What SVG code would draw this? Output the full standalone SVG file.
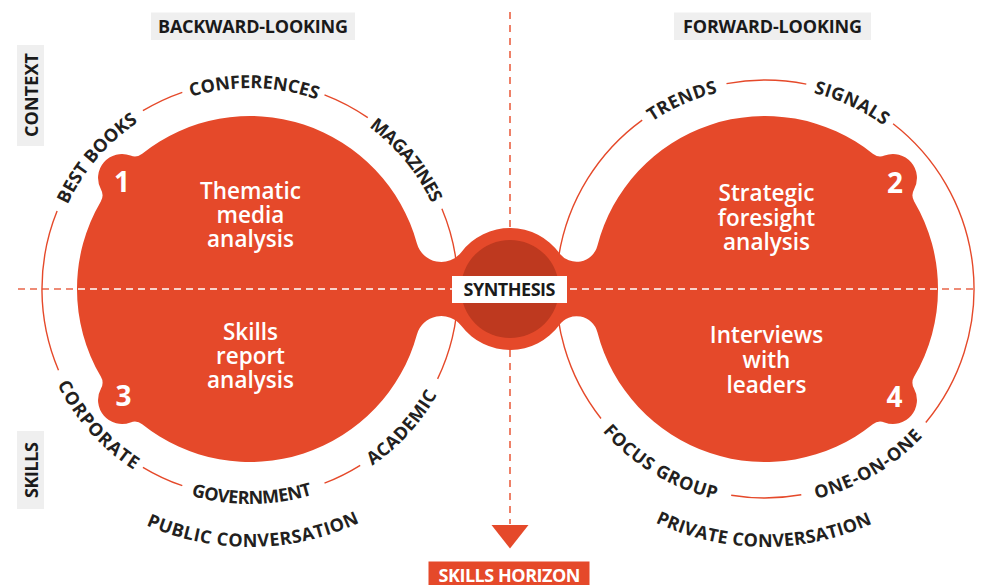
<svg xmlns="http://www.w3.org/2000/svg" xmlns:xlink="http://www.w3.org/1999/xlink" width="982" height="585" viewBox="0 0 982 585">
<style>
.ring{fill:none;stroke:#E5492A;stroke-width:1.4}
.lbl{font-family:"Open Sans","Liberation Sans",sans-serif;font-weight:700;font-size:18px;fill:#231f20}
.hdr{font-family:"Open Sans","Liberation Sans",sans-serif;font-weight:700;font-size:18px;fill:#1a1a1a;text-anchor:middle}
.box{fill:#EFEFEF}
.btxt{font-family:"Open Sans","Liberation Sans",sans-serif;font-weight:600;font-size:22.5px;fill:#fff;text-anchor:middle}
.num{font-family:"Open Sans","Liberation Sans",sans-serif;font-weight:700;font-size:28px;fill:#fff;text-anchor:middle}
</style>
<defs>
<path id="blob" d="M461.5,252 A61,61 0 0 1 559.3,253.1 A21.5,21.5 0 0 0 597.4,245.8 A173,173 0 0 1 872.8,153.7 A12,12 0 0 0 884.5,155.5 A24,24 0 0 1 914,189.5 A12,12 0 0 0 914.2,201.4 A173,173 0 0 1 914.2,376.6 A12,12 0 0 0 914,388.5 A24,24 0 0 1 884.5,422.5 A12,12 0 0 0 872.8,424.3 A173,173 0 0 1 597.4,332.2 A21.5,21.5 0 0 0 559.3,324.9 A61,61 0 0 1 461.5,326 A25.4,25.4 0 0 0 416.85,334.7 A173,173 0 0 1 142.2,424.3 A12,12 0 0 0 130.5,422.5 A24,24 0 0 1 101,388.5 A12,12 0 0 0 100.8,376.6 A173,173 0 0 1 100.8,201.4 A12,12 0 0 0 101,189.5 A24,24 0 0 1 130.5,155.5 A12,12 0 0 0 142.2,153.7 A173,173 0 0 1 416.85,243.3 A25.4,25.4 0 0 0 461.5,252 Z"/>
<clipPath id="blobClip"><use xlink:href="#blob" href="#blob"/></clipPath>
<path id="aT202" d="M-142.1,-142.1 A201,201 0 0 1 142.1,-142.1"/>
<path id="aB214" d="M-152,152 A215,215 0 0 0 152,152"/>
<path id="aT203" d="M-142.8,-142.8 A202,202 0 0 1 142.8,-142.8"/>
<path id="aB215" d="M-152.7,152.7 A216,216 0 0 0 152.7,152.7"/>
<path id="aB258" d="M-182.4,182.4 A258,258 0 0 0 182.4,182.4"/>
</defs>

<g id="axes">
<line x1="18" y1="289" x2="978" y2="289" stroke="#E9654A" stroke-width="1.5" stroke-dasharray="7 5"/>
<line x1="510" y1="12" x2="510" y2="524" stroke="#EE8068" stroke-width="2" stroke-dasharray="7 6"/>
<polygon points="491.5,525 528.5,525 510,548.5" fill="#E5492A"/>
</g>

<g id="connectors">
<path class="ring" d="M324.5,94.8 A208,208 0 0 1 367.8,117.6 M441.9,208.7 A208,208 0 0 1 437.6,378.9 M360.2,465.4 A208,208 0 0 1 324.5,483.2 M182.3,485.7 A208,208 0 0 1 142.9,467.3 M58.5,370.3 A208,208 0 0 1 57.1,211.1 M142.9,110.7 A208,208 0 0 1 182.3,92.3"/>
<path class="ring" d="M726.5,83.6 A209,209 0 0 1 806.3,84.1 M893.1,123.8 A209,209 0 0 1 925.8,422.5 M801.3,494.8 A209,209 0 0 1 731.2,495.3 M601,418.5 A209,209 0 0 1 642.2,120.1"/>
</g>

<g id="node-blob">
<use xlink:href="#blob" href="#blob" fill="#E5492A"/>
<line x1="18" y1="289" x2="978" y2="289" stroke="#FFFFFF" stroke-width="1.5" stroke-dasharray="7 5" clip-path="url(#blobClip)"/>
</g>

<g id="node-synthesis">
<circle cx="510" cy="289" r="49" fill="#BE391F"/>
<rect x="452" y="276" width="115" height="27" fill="#FFFFFF"/>
<text class="hdr" x="509.5" y="295.5" font-size="17.5" textLength="92" lengthAdjust="spacing">SYNTHESIS</text>
</g>

<g id="node-1">
<text class="num" x="122" y="192">1</text>
<text class="btxt" x="250.5" y="199">Thematic</text>
<text class="btxt" x="250.5" y="223">media</text>
<text class="btxt" x="250.5" y="247">analysis</text>
</g>
<g id="node-2">
<text class="num" x="895" y="193">2</text>
<text class="btxt" x="766.5" y="201">Strategic</text>
<text class="btxt" x="766.5" y="225.5">foresight</text>
<text class="btxt" x="766.5" y="250">analysis</text>
</g>
<g id="node-3">
<text class="num" x="123.5" y="406">3</text>
<text class="btxt" x="250.5" y="340">Skills</text>
<text class="btxt" x="250.5" y="364">report</text>
<text class="btxt" x="250.5" y="388">analysis</text>
</g>
<g id="node-4">
<text class="num" x="894.5" y="406.5">4</text>
<text class="btxt" x="766.5" y="343">Interviews</text>
<text class="btxt" x="766.5" y="368">with</text>
<text class="btxt" x="766.5" y="393">leaders</text>
</g>

<g id="ring-labels-left" transform="translate(250,289)">
<g transform="rotate(1.2)"><text class="lbl" text-anchor="middle"><textPath xlink:href="#aT202" href="#aT202" startOffset="50%" textLength="128" lengthAdjust="spacing">CONFERENCES</textPath></text></g>
<g transform="rotate(-49.5)"><text class="lbl" text-anchor="middle"><textPath xlink:href="#aT202" href="#aT202" startOffset="50%" textLength="110" lengthAdjust="spacing">BEST BOOKS</textPath></text></g>
<g transform="rotate(50.5)"><text class="lbl" text-anchor="middle"><textPath xlink:href="#aT202" href="#aT202" startOffset="50%" textLength="100" lengthAdjust="spacing">MAGAZINES</textPath></text></g>
<g transform="rotate(48.2)"><text class="lbl" text-anchor="middle"><textPath xlink:href="#aB214" href="#aB214" startOffset="50%" textLength="116" lengthAdjust="spacing">CORPORATE</textPath></text></g>
<g transform="rotate(-0.5)"><text class="lbl" text-anchor="middle"><textPath xlink:href="#aB214" href="#aB214" startOffset="50%" textLength="123" lengthAdjust="spacing">GOVERNMENT</textPath></text></g>
<g transform="rotate(-47.6)"><text class="lbl" text-anchor="middle"><textPath xlink:href="#aB214" href="#aB214" startOffset="50%" textLength="97" lengthAdjust="spacing">ACADEMIC</textPath></text></g>
<g transform="rotate(-0.7)"><text class="lbl" text-anchor="middle"><textPath xlink:href="#aB258" href="#aB258" startOffset="50%" textLength="220" lengthAdjust="spacing">PUBLIC CONVERSATION</textPath></text></g>
</g>

<g id="ring-labels-right" transform="translate(765,289)">
<g transform="rotate(-23.8)"><text class="lbl" text-anchor="middle"><textPath xlink:href="#aT203" href="#aT203" startOffset="50%" textLength="72" lengthAdjust="spacing">TRENDS</textPath></text></g>
<g transform="rotate(25)"><text class="lbl" text-anchor="middle"><textPath xlink:href="#aT203" href="#aT203" startOffset="50%" textLength="78" lengthAdjust="spacing">SIGNALS</textPath></text></g>
<g transform="rotate(31)"><text class="lbl" text-anchor="middle"><textPath xlink:href="#aB215" href="#aB215" startOffset="50%" textLength="134" lengthAdjust="spacing">FOCUS GROUP</textPath></text></g>
<g transform="rotate(-30.3)"><text class="lbl" text-anchor="middle"><textPath xlink:href="#aB215" href="#aB215" startOffset="50%" textLength="125" lengthAdjust="spacing">ONE-ON-ONE</textPath></text></g>
<g transform="rotate(0.3)"><text class="lbl" text-anchor="middle"><textPath xlink:href="#aB258" href="#aB258" startOffset="50%" textLength="224" lengthAdjust="spacing">PRIVATE CONVERSATION</textPath></text></g>
</g>

<g id="header-backward">
<rect class="box" x="151" y="12.5" width="204" height="27.5"/>
<text class="hdr" x="253" y="33.3" textLength="190" lengthAdjust="spacing">BACKWARD-LOOKING</text>
</g>
<g id="header-forward">
<rect class="box" x="674" y="12.5" width="197" height="27.5"/>
<text class="hdr" x="772.5" y="33.3" textLength="179" lengthAdjust="spacing">FORWARD-LOOKING</text>
</g>
<g id="header-context">
<rect class="box" x="17" y="45" width="27" height="101"/>
<text class="hdr" transform="translate(37.5,95) rotate(-90)" x="0" y="0" textLength="84" lengthAdjust="spacing">CONTEXT</text>
</g>
<g id="header-skills">
<rect class="box" x="17" y="431" width="27" height="78"/>
<text class="hdr" transform="translate(37.5,470) rotate(-90)" x="0" y="0" textLength="56" lengthAdjust="spacing">SKILLS</text>
</g>
<g id="node-horizon">
<rect x="428.5" y="561.5" width="161" height="24" fill="#E5492A"/>
<text class="hdr" x="509.5" y="581.5" font-size="17" style="fill:#FFFFFF" textLength="142" lengthAdjust="spacing">SKILLS HORIZON</text>
</g>
</svg>
